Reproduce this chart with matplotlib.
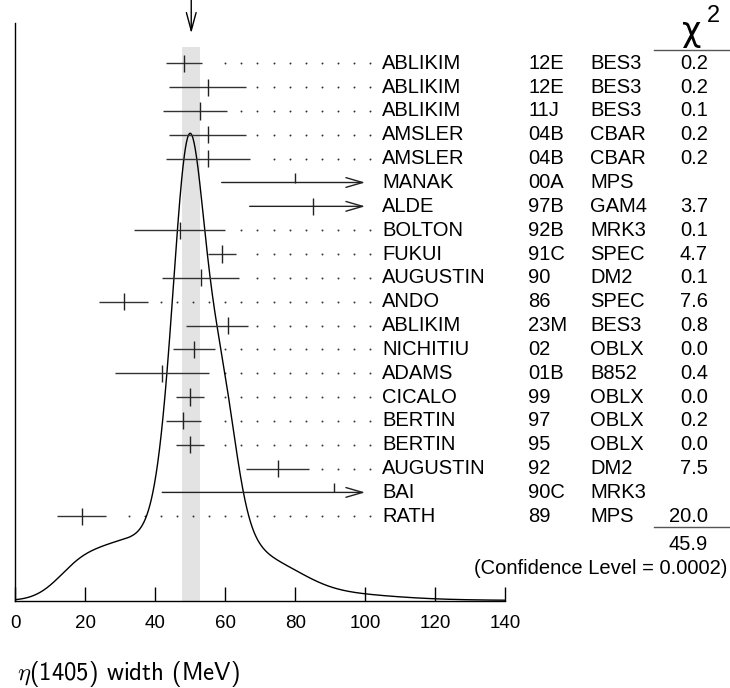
import numpy as np
import matplotlib.pyplot as plt

# -----------------------------
# DATA
# -----------------------------

authors = ["ABLIKIM", "ABLIKIM", "ABLIKIM", "AMSLER", "AMSLER", "MANAK", "ALDE",
           "BOLTON", "FUKUI", "AUGUSTIN", "ANDO", "ABLIKIM", "NICHITIU", "ADAMS",
           "CICALO", "BERTIN", "BERTIN", "AUGUSTIN", "BAI", "RATH"]
codes = ["12E", "12E", "11J", "04B", "04B", "00A", "97B", "92B", "91C", "90",
         "86", "23M", "02", "01B", "99", "97", "95", "92", "90C", "89"]
experiments = ["BES3", "BES3", "BES3", "CBAR", "CBAR", "MPS", "GAM4", "MRK3", "SPEC", "DM2",
               "SPEC", "BES3", "OBLX", "B852", "OBLX", "OBLX", "OBLX", "DM2", "MRK3", "MPS"]
values = [48.2, 55, 52.9, 55, 55, 80, 85, 47, 59, 53, 31, 60.9, 51, 42, 50, 48, 50, 75, 91, 19]
err_lo = [5.2, 11, 10.8, 11, 12, 21, 18, 13, 4, 11, 7, 12.1, 6, 13.4, 4, 5, 4, 9, 49, 7]
err_hi = [5.2, 11, 7.5, 11, 12, 21, 18, 13, 4, 11, 7, 5.7, 6, 13.4, 4, 5, 4, 9, 49, 7]
chi2 = ["0.2", "0.2", "0.1", "0.2", "0.2", "", "3.7", "0.1", "4.7", "0.1",
        "7.6", "0.8", "0.0", "0.4", "0.0", "0.2", "0.0", "7.5", "", "20.0"]

mean = 50.3
mean_err = 2.6
chi2_total = "45.9"
conf_level = "0.0002"

x_max_bar = 100  # bars are cut here, arrow drawn

# -----------------------------
# FIGURE
# -----------------------------

plt.rcParams["font.family"] = ["Liberation Sans", "DejaVu Sans"]
plt.rcParams["mathtext.fontset"] = "cm"

fig = plt.figure(figsize=(7.3, 6.88), dpi=100)
ax = fig.add_axes([15.3 / 730, 1 - 600.7 / 688, 489.7 / 730, 577.4 / 688])

row_h = 23.84
ax.set_xlim(0, 140)
ax.set_ylim(0, 577.4 / row_h)

def py(px):
    # pixel row of the picture -> y in axes data
    return (600.7 - px) / row_h

n = len(values)
rows = [py(63.3 + row_h * i) for i in range(n)]

# ideogram: each measurement a gaussian with area ~ 1/sigma
xs = np.linspace(0, 140, 1400)
curve = np.zeros_like(xs)
for v, lo, hi in zip(values, err_lo, err_hi):
    s = np.where(xs < v, lo, hi)
    amp = 1.0 / (0.5 * (lo + hi)) ** 2
    curve += amp * np.exp(-0.5 * ((xs - v) / s) ** 2)
curve = curve / curve.max() * (467.4 / row_h)
ax.plot(xs, curve, color="black", lw=1.0, zorder=3)

# weighted average band
ax.fill_between([mean - mean_err, mean + mean_err], 0, py(46.7),
                color="#e3e3e3", lw=0, zorder=0)

# arrow marking the average
ax.annotate("", xy=(mean, py(33.3)), xytext=(mean, py(0)),
            annotation_clip=False,
            arrowprops=dict(arrowstyle="->,head_length=1.3,head_width=0.35",
                            lw=1.0, color="black", shrinkA=0, shrinkB=0))

# dot grid
dot_x = 96.87 + 4.605 * np.arange(-21, 2)
dot_x = dot_x[dot_x > 0]

for i in range(n):
    y = rows[i]
    v = values[i]
    lo = v - err_lo[i]
    hi = v + err_hi[i]
    if hi > x_max_bar:
        ax.annotate("", xy=(x_max_bar, y), xytext=(lo, y), annotation_clip=False,
                    arrowprops=dict(arrowstyle="->,head_length=1.2,head_width=0.35",
                                    lw=1.0, color="#222222", shrinkA=0, shrinkB=0))
    else:
        ax.hlines(y, lo, hi, color="#333333", lw=1.0, zorder=4)
        d = dot_x[dot_x > hi + 2.6]
        ax.plot(d, [y] * len(d), ls="none", marker="o", ms=1.4, color="#333333",
                mec="none", clip_on=False)
    if chi2[i] == "":
        ax.vlines(v, y, y + 0.38, color="#222222", lw=1.0, zorder=4)
    else:
        ax.vlines(v, y - 0.36, y + 0.36, color="#222222", lw=1.0, zorder=4)

    ax.text(104.9, y, authors[i], fontsize=14.5, va="center", ha="left")
    ax.text(146.6, y, codes[i], fontsize=14.5, va="center", ha="left")
    ax.text(164.4, y, experiments[i], fontsize=14.5, va="center", ha="left")
    ax.text(198, y, chi2[i], fontsize=14.5, va="center", ha="right")

# chi2 header and totals
ax.text(193.5, py(32), "χ", family="DejaVu Sans", fontsize=24, ha="center", va="center")
ax.text(197.8, py(16), "2", fontsize=17, ha="left", va="center")
ax.plot([182.5, 204.3], [py(50)] * 2, color="#555555", lw=1.0, clip_on=False)
ax.plot([182.5, 204.3], [py(527.3)] * 2, color="#555555", lw=1.0, clip_on=False)
ax.text(198, py(545), chi2_total, fontsize=14.5, va="center", ha="right")
ax.text(203.6, py(569), "(Confidence Level = " + conf_level + ")",
        fontsize=14.5, va="center", ha="right")

# axes style
for side in ["top", "right"]:
    ax.spines[side].set_visible(False)
ax.spines["left"].set_linewidth(1.0)
ax.spines["bottom"].set_linewidth(1.0)
ax.set_yticks([])
ax.set_xticks(np.arange(0, 141, 20))
ax.tick_params(axis="x", direction="in", length=10, width=1.0, pad=10, labelsize=13.5)

fig.text(17 / 730, 1 - 680 / 688, r"$\eta$(1405) width (MeV)", family="cmss10",
         fontsize=17.8, va="baseline", ha="left")

fig.savefig("out.png", dpi=100)
